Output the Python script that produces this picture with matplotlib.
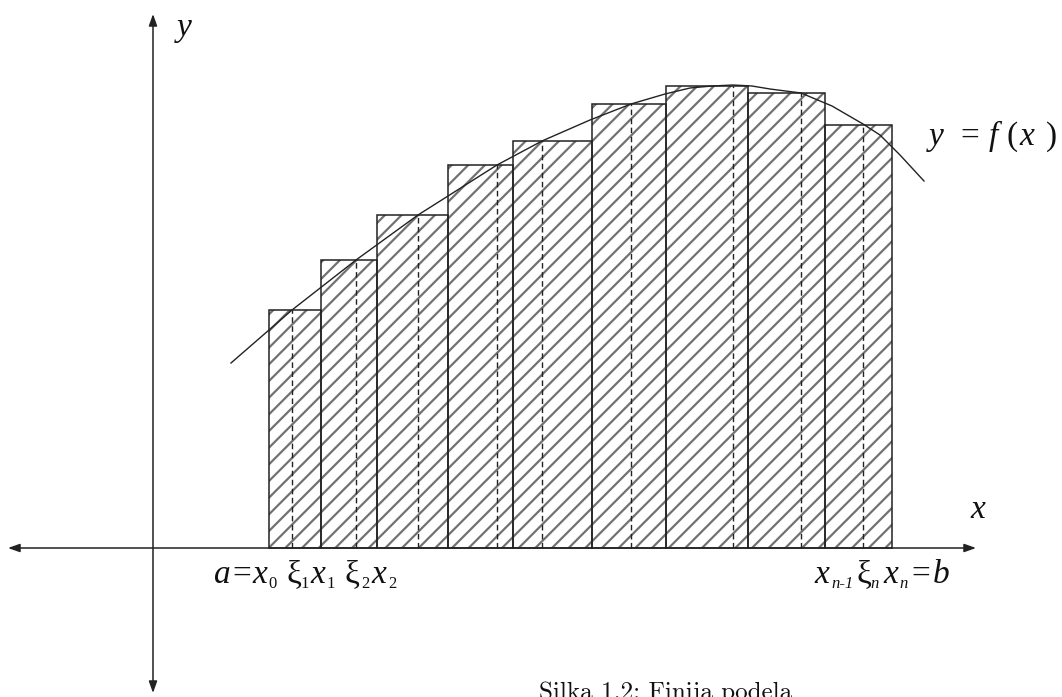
import numpy as np
import matplotlib.pyplot as plt
from matplotlib.patches import Rectangle

plt.rcParams['hatch.linewidth'] = 1.6

# picture read in pixel coordinates (y grows downward)
base = 548
edges = [269, 321, 377, 448, 513, 592, 666, 748, 825, 892]
tops = [310, 260, 215, 165, 141, 104, 86, 93, 125]
xi = [292, 356, 418, 497, 542, 631, 733, 801, 863]
curve_x = [231, 269, 292, 356, 418, 497, 542, 590, 631, 665, 690, 712, 733, 752, 770, 801, 832, 863, 880, 900, 924]
curve_y = [363, 330, 310, 260, 215, 165, 141, 120, 104, 94, 88, 86, 85, 86, 89, 93, 106, 124, 135, 155, 181]

# label pieces: (text, x, italic)
left_main = [('a', 214, True), ('=', 232, False), ('x', 252, True), ('ξ', 287, False),
             ('x', 310, True), ('ξ', 344, False), ('x', 371, True)]
left_sub = [('0', 268), ('1', 300), ('1', 326), ('2', 361), ('2', 388)]
right_main = [('x', 814, True), ('ξ', 857, False), ('x', 883, True), ('=', 911, False), ('b', 933, True)]
right_sub = [('n-1', 831, True), ('n', 870, True), ('n', 899, True)]
func_parts = [('y', 929, True), ('=', 960, False), ('f', 989, True), ('(', 1007, False),
              ('x', 1019, True), (')', 1046, False)]

fig = plt.figure(figsize=(10.62, 6.97), dpi=100)
ax = fig.add_axes([0, 0, 1, 1])
ax.set_xlim(0, 1062)
ax.set_ylim(697, 0)
ax.axis('off')

for i in range(len(tops)):
    x0, x1 = edges[i], edges[i + 1]
    h = base - tops[i]
    ax.add_patch(Rectangle((x0, tops[i]), x1 - x0, h, facecolor='white',
                           edgecolor='#727272', hatch='//', linewidth=0, zorder=1))
    ax.add_patch(Rectangle((x0, tops[i]), x1 - x0, h, facecolor='none',
                           edgecolor='#222222', linewidth=1.1, zorder=3))
    ax.plot([xi[i], xi[i]], [base, tops[i]], color='#222222', lw=1.0,
            linestyle=(0, (4, 2.5)), zorder=3)

ax.plot(curve_x, curve_y, color='#222222', lw=1.0, zorder=4)

# axes with arrows
arr = dict(arrowstyle='<|-|>,head_length=0.7,head_width=0.25', color='#222222',
           lw=1.1, shrinkA=0, shrinkB=0)
ax.annotate('', xy=(8, base), xytext=(976, base), arrowprops=arr, zorder=5)
ax.annotate('', xy=(153, 14), xytext=(153, 693), arrowprops=arr, zorder=5)

fam = 'Liberation Serif'
big = 24
small = 12


def put(s, x, y, italic, size):
    ax.text(x, y, s, family=fam, style='italic' if italic else 'normal',
            fontsize=size, color='#111111', va='baseline', ha='left')


put('y', 177, 36, True, big)
put('x', 970, 518, True, big)
for s, x, it in func_parts:
    put(s, x, 145, it, big)
for s, x, it in left_main:
    put(s, x, 583, it, big)
for s, x in left_sub:
    put(s, x, 588, False, small)
for s, x, it in right_main:
    put(s, x, 583, it, big)
for s, x, it in right_sub:
    put(s, x, 588, it, small)

ax.text(666, 681, 'Silka 1.2: Finija podela', family='cmr10', fontsize=18,
        ha='center', va='top', color='#111111')

fig.savefig('out.png', dpi=100)
